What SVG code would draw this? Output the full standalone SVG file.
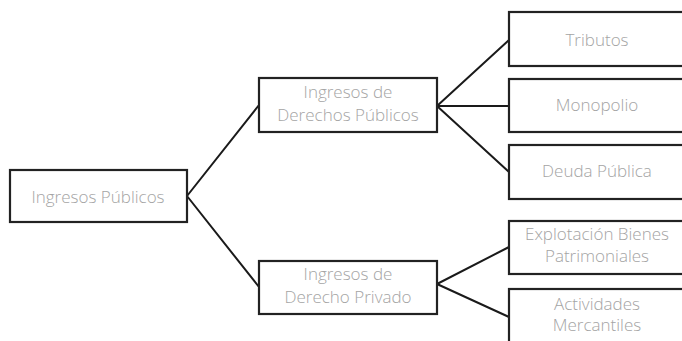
<svg xmlns="http://www.w3.org/2000/svg" width="682" height="341" viewBox="0 0 682 341">
<style>
.box{fill:#fff;stroke:#222;stroke-width:2.2}
.lbl{font-family:"Open Sans",Lato,"Liberation Sans",sans-serif;font-weight:300;font-size:17px;fill:#a4a4a4;text-anchor:middle}
.con{stroke:#1a1a1a;stroke-width:2;fill:none}
</style>
<rect width="682" height="341" fill="#fff"/>
<g id="connectors">
<path class="con" d="M187,196 L259,105 M187,196 L259,287"/>
<path class="con" d="M437,106 L509,40 M437,106 L509,106 M437,106 L509,172"/>
<path class="con" d="M437,284 L509,247 M437,284 L509,317"/>
</g>
<g id="n-root"><rect class="box" x="10" y="170" width="177" height="52"/><text class="lbl" x="98" y="203">Ingresos Públicos</text></g>
<g id="n-derechos"><rect class="box" x="259" y="78" width="178" height="54"/><text class="lbl" x="348" y="98">Ingresos de</text><text class="lbl" x="348" y="121">Derechos Públicos</text></g>
<g id="n-privado"><rect class="box" x="259" y="261" width="178" height="53"/><text class="lbl" x="348" y="280">Ingresos de</text><text class="lbl" x="348" y="303">Derecho Privado</text></g>
<g id="n-tributos"><rect class="box" x="509" y="12" width="180" height="54"/><text class="lbl" x="597" y="46">Tributos</text></g>
<g id="n-monopolio"><rect class="box" x="509" y="79" width="180" height="53"/><text class="lbl" x="597" y="111">Monopolio</text></g>
<g id="n-deuda"><rect class="box" x="509" y="145" width="180" height="54"/><text class="lbl" x="597" y="177">Deuda Pública</text></g>
<g id="n-explotacion"><rect class="box" x="509" y="221" width="180" height="53"/><text class="lbl" x="597" y="240">Explotación Bienes</text><text class="lbl" x="597" y="262">Patrimoniales</text></g>
<g id="n-actividades"><rect class="box" x="509" y="289" width="180" height="60"/><text class="lbl" x="597" y="310">Actividades</text><text class="lbl" x="597" y="331">Mercantiles</text></g>
</svg>
